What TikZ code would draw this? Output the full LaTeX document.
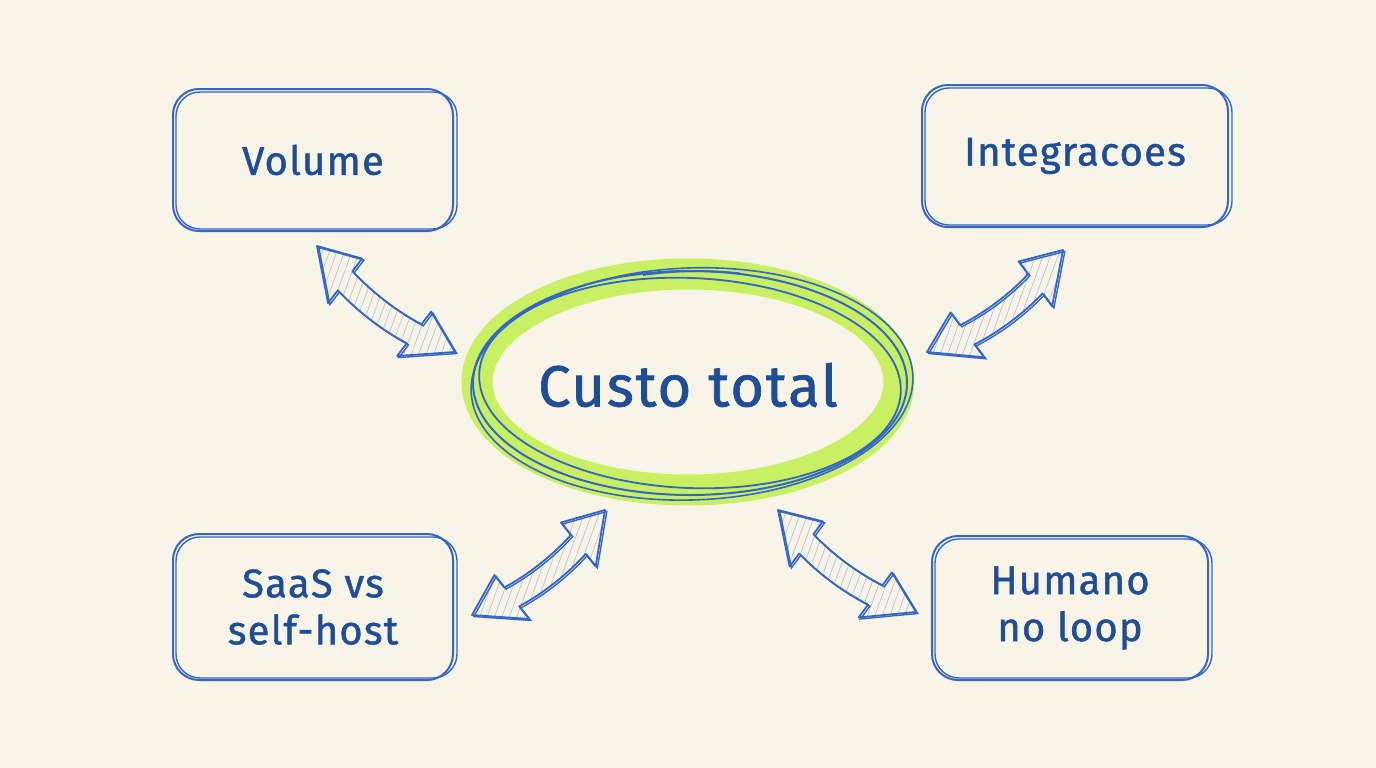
\documentclass[tikz,border=0pt]{standalone}
\usepackage{fontspec}
\setmainfont{Fira Sans}[FakeBold=1.2, LetterSpace=3]
\usetikzlibrary{calc,shapes.geometric,patterns.meta}
\definecolor{bg}{HTML}{F8F4E7}
\definecolor{lineblue}{HTML}{3466C7}
\definecolor{textblue}{HTML}{1F4E96}
\definecolor{hlgreen}{HTML}{C9EF62}
\definecolor{hatch}{HTML}{B9C3DA}
\tikzset{
  box/.style={draw=lineblue, line width=2pt, rounded corners=26pt, align=center,
    text=textblue, font=\fontsize{40}{47}\selectfont},
  sketch/.style={draw=lineblue, line width=1.4pt},
  arrowbody/.style={draw=lineblue, line width=1.8pt, line join=round,
    preaction={fill=bg}, pattern={Lines[angle=70,distance=7pt,line width=0.7pt]}, pattern color=hatch},
}
\newcommand\blockarrow[3]{%
  \pgfmathsetmacro\cb{0.75*#3}%
  \pgfmathsetmacro\cc{1.083*#3}%
  \pgfmathsetmacro\pa{\cb+28}\pgfmathsetmacro\pb{\cb+12}%
  \pgfmathsetmacro\ma{\cb-28}\pgfmathsetmacro\mb{\cb-12}%
  \pgfmathsetmacro\qa{\cc+12}\pgfmathsetmacro\qb{\cc-12}%
  \coordinate (h1) at ($(#1)!0.25!(#2)!\pa pt!90:(#2)$);
  \coordinate (h2) at ($(#1)!0.25!(#2)!\pb pt!90:(#2)$);
  \coordinate (c1) at ($(#1)!0.417!(#2)!\qa pt!90:(#2)$);
  \coordinate (c2) at ($(#1)!0.583!(#2)!\qa pt!90:(#2)$);
  \coordinate (h3) at ($(#1)!0.75!(#2)!\pb pt!90:(#2)$);
  \coordinate (h4) at ($(#1)!0.75!(#2)!\pa pt!90:(#2)$);
  \coordinate (h5) at ($(#1)!0.75!(#2)!\ma pt!90:(#2)$);
  \coordinate (h6) at ($(#1)!0.75!(#2)!\mb pt!90:(#2)$);
  \coordinate (c3) at ($(#1)!0.583!(#2)!\qb pt!90:(#2)$);
  \coordinate (c4) at ($(#1)!0.417!(#2)!\qb pt!90:(#2)$);
  \coordinate (h7) at ($(#1)!0.25!(#2)!\mb pt!90:(#2)$);
  \coordinate (h8) at ($(#1)!0.25!(#2)!\ma pt!90:(#2)$);
  \draw[arrowbody] (#1) -- (h1) -- (h2) .. controls (c1) and (c2) .. (h3) -- (h4) -- (#2)
     -- (h5) -- (h6) .. controls (c3) and (c4) .. (h7) -- (h8) -- cycle;
  \draw[sketch, transform canvas={shift={(1.8pt,-1.5pt)}}] (#1) -- (h1) -- (h2) .. controls (c1) and (c2) .. (h3) -- (h4) -- (#2)
     -- (h5) -- (h6) .. controls (c3) and (c4) .. (h7) -- (h8) -- cycle;
}
\begin{document}
\begin{tikzpicture}[x=1pt,y=-1pt]
\fill[bg] (0,0) rectangle (1376,768);
\useasboundingbox (0,0) rectangle (1376,768);

% boxes
\node[box, minimum width=280pt, minimum height=142pt] (vol) at (313,160) {Volume};
\node[box, minimum width=306pt, minimum height=142pt] (int) at (1075,156) {Integracoes};
\node[box, minimum width=280pt, minimum height=146pt] (saas) at (313,607) {SaaS vs\\self-host};
\node[box, minimum width=276pt, minimum height=144pt] (hum) at (1070,608) {Humano\\no loop};
\foreach \n in {vol,int,saas,hum}{
  \draw[sketch, rounded corners=24pt] ($(\n.south west)+(4pt,3pt)$) rectangle ($(\n.north east)+(3pt,-4pt)$);
}

% center
\draw[hlgreen, line width=31pt] (688,382) ellipse [x radius=211pt, y radius=108pt];
\node[text=textblue, font=\fontsize{58}{64}\selectfont] (c) at (688,385) {Custo total};
\draw[sketch, line width=2pt] (690,383) ellipse [x radius=217pt, y radius=112pt];
\draw[sketch, line width=1.8pt, rotate around={-2.5:(690,383)}] (690,383) ellipse [x radius=211pt, y radius=105pt];
\draw[sketch, line width=1.6pt, rotate around={2:(690,383)}] (692,384) ellipse [x radius=221pt, y radius=116pt];
\draw[sketch, line width=1.8pt] (c.center) ++(-45pt,110pt) arc[start angle=106, end angle=78, x radius=200pt, y radius=100pt];

% arrows
\coordinate (a1s) at (317,246); \coordinate (a1e) at (455,352);
\coordinate (a2s) at (1063,250); \coordinate (a2e) at (927,352);
\coordinate (a3s) at (605,510); \coordinate (a3e) at (472,615);
\coordinate (a4s) at (778,510); \coordinate (a4e) at (916,612);
\blockarrow{a1s}{a1e}{-14}
\blockarrow{a2s}{a2e}{14}
\blockarrow{a3s}{a3e}{14}
\blockarrow{a4s}{a4e}{-14}
\end{tikzpicture}
\end{document}
